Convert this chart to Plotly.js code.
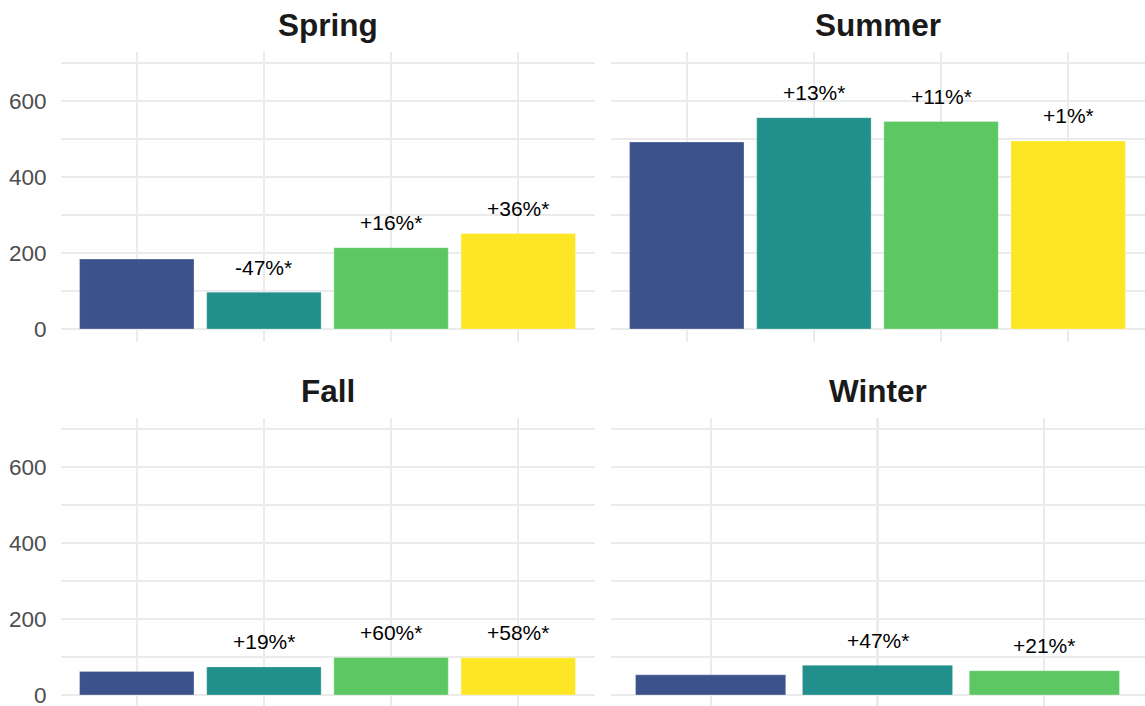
<!DOCTYPE html>
<html>
<head>
<meta charset="utf-8">
<script src="https://cdn.plot.ly/plotly-3.0.1.min.js"></script>
<style>html,body{margin:0;padding:0;background:#fff;}#chart{width:1145px;height:706px;}</style>
</head>
<body>
<div id="chart"></div>
<script>
// ---- data ----
const categories = ["Group 1", "Group 2", "Group 3", "Group 4"];
const barColors = ["#3B528B", "#21908C", "#5DC863", "#FDE725"];
const panelTitles = ["Spring", "Summer", "Fall", "Winter"];

const springValues = [184, 97, 214, 251];
const summerValues = [492, 556, 546, 495];
const fallValues = [62, 74, 99, 98];
const winterValues = [53, 78, 64];

const springLabels = ["", "-47%*", "+16%*", "+36%*"];
const summerLabels = ["", "+13%*", "+11%*", "+1%*"];
const fallLabels = ["", "+19%*", "+60%*", "+58%*"];
const winterLabels = ["", "+47%*", "+21%*"];

const yTickVals = [0, 200, 400, 600];

// ---- build ----
const FONT = "Liberation Sans, Arial, Helvetica, sans-serif";
const panels = [
  {values: springValues, labels: springLabels, ax: ""},
  {values: summerValues, labels: summerLabels, ax: "2"},
  {values: fallValues, labels: fallLabels, ax: "3"},
  {values: winterValues, labels: winterLabels, ax: "4"}
];

const traces = panels.map(p => ({
  type: "bar",
  x: categories.slice(0, p.values.length),
  y: p.values,
  xaxis: "x" + p.ax,
  yaxis: "y" + p.ax,
  marker: {
    color: barColors.slice(0, p.values.length),
    line: {width: 0.6, color: "rgba(255,255,255,0.45)"}
  },
  hoverinfo: "x+y",
  showlegend: false
}));

const annotations = [];
panels.forEach(p => {
  p.labels.forEach((t, i) => {
    if (!t) return;
    annotations.push({
      xref: "x" + p.ax, yref: "y" + p.ax,
      x: categories[i], y: p.values[i],
      text: t, showarrow: false,
      yanchor: "middle", xanchor: "center", yshift: 25,
      font: {family: FONT, size: 21, color: "#000000"}
    });
  });
});

const titlePos = [
  {x: 327.5 / 1145, y: 1 - 25 / 706},
  {x: 877.5 / 1145, y: 1 - 25 / 706},
  {x: 327.5 / 1145, y: 1 - 391 / 706},
  {x: 877.5 / 1145, y: 1 - 391 / 706}
];
panelTitles.forEach((t, i) => {
  annotations.push({
    xref: "paper", yref: "paper", x: titlePos[i].x, y: titlePos[i].y,
    text: "<b>" + t + "</b>", showarrow: false,
    xanchor: "center", yanchor: "middle",
    font: {family: FONT, size: 31.5, color: "#1A1A1A"}
  });
});

const W = 1145, H = 706;
const leftDom = [60.5 / W, 594.5 / W];
const rightDom = [610.5 / W, 1144.5 / W];
const topDom = [1 - 342 / H, 1 - 51.7 / H];
const botDom = [0, 1 - 417.7 / H];
const topRange = [-34.2, 729.7];
const botRange = [-(706 - 695) / 0.38, 729.7];

function xax(dom, n, anchor) {
  return {
    domain: dom, anchor: anchor, type: "category",
    categoryorder: "array", categoryarray: categories.slice(0, n),
    range: [-0.6, n - 0.4],
    showgrid: true, gridcolor: "#EBEBEB", gridwidth: 2.2,
    showticklabels: false, ticks: "", zeroline: false, showline: false,
    fixedrange: true
  };
}
function yax(dom, range, anchor, labels) {
  return {
    domain: dom, anchor: anchor, range: range,
    tickmode: "array", tickvals: yTickVals,
    showgrid: true, gridcolor: "#EBEBEB", gridwidth: 2.2,
    minor: {tickmode: "array", tickvals: [100, 300, 500, 700], showgrid: true, gridcolor: "#EBEBEB", gridwidth: 1.3, ticks: ""},
    showticklabels: labels, ticks: "", ticklabelstandoff: 13,
    ticklabeloverflow: "allow",
    tickfont: {family: FONT, size: 22.5, color: "#4D4D4D"},
    zeroline: false, showline: false, automargin: false, fixedrange: true
  };
}

const layout = {
  width: W, height: H,
  margin: {l: 0, r: 0, t: 0, b: 0, pad: 0},
  paper_bgcolor: "#ffffff", plot_bgcolor: "#ffffff",
  bargap: 0.1,
  showlegend: false,
  xaxis: xax(leftDom, springValues.length, "y"),
  xaxis2: xax(rightDom, summerValues.length, "y2"),
  xaxis3: xax(leftDom, fallValues.length, "y3"),
  xaxis4: xax(rightDom, winterValues.length, "y4"),
  yaxis: yax(topDom, topRange, "x", true),
  yaxis2: yax(topDom, topRange, "x2", false),
  yaxis3: yax(botDom, botRange, "x3", true),
  yaxis4: yax(botDom, botRange, "x4", false),
  annotations: annotations,
  font: {family: FONT}
};

Plotly.newPlot("chart", traces, layout, {displayModeBar: false, staticPlot: true});
</script>
</body>
</html>
